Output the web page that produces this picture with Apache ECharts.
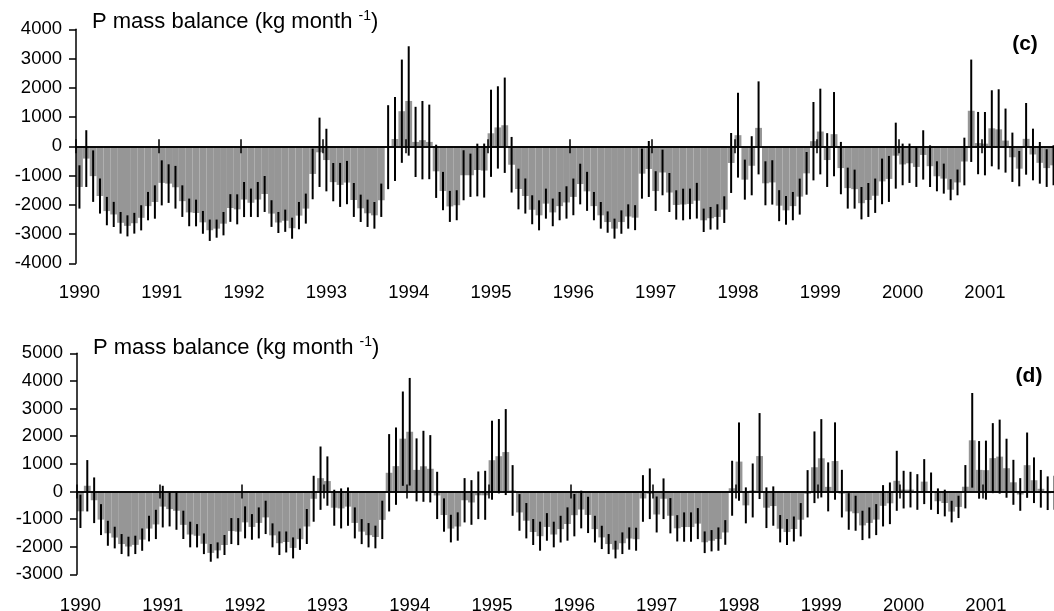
<!DOCTYPE html>
<html>
<head>
<meta charset="utf-8">
<script src="https://cdn.jsdelivr.net/npm/echarts@6/dist/echarts.min.js"></script>
<style>
html,body{margin:0;padding:0;background:#fff;}
#chart{width:1054px;height:611px;}
</style>
</head>
<body>
<div id="chart"></div>
<script>
// ---- data ----
const years = [1990,1991,1992,1993,1994,1995,1996,1997,1998,1999,2000,2001];
const monthsShown = 143; // Jan 1990 .. Nov 2001 visible

// Panel (c): P mass balance (kg month-1), monthly values and error half-widths
const cVals = [-1390,-420,-1020,-1700,-2215,-2330,-2615,-2720,-2630,-2445,-2045,-1905,
-1250,-1275,-1400,-1875,-2260,-2280,-2600,-2870,-2815,-2645,-2110,-2155,
-1820,-1930,-1820,-1630,-2300,-2605,-2545,-2800,-2370,-2130,-945,-205,
-470,-1225,-1320,-1240,-1835,-2120,-2290,-2360,-1845,-30,250,1200,
1550,150,210,150,-855,-1530,-2055,-2015,-990,-990,-810,-830,
445,645,720,-630,-1460,-1700,-2170,-2360,-1960,-2260,-2045,-1920,
-1730,-1290,-1540,-2045,-2360,-2590,-2815,-2590,-2400,-2440,-935,-775,
-1530,-895,-1580,-2005,-1990,-1970,-1860,-2530,-2460,-2415,-2165,-570,
380,-1140,-665,630,-1265,-1235,-2030,-2190,-2045,-1720,-925,175,
505,-470,415,-745,-1430,-1465,-1945,-1835,-1690,-1200,-1115,-320,
-620,-580,-705,-295,-680,-1025,-1105,-1485,-1235,-520,1215,110,
90,615,580,195,-375,-765,255,-280,-565,-745,-650];
const cErr = [740,970,880,600,485,430,370,360,355,430,485,570,
770,660,730,540,473,456,390,365,310,400,473,513,
600,485,600,615,456,360,380,360,467,513,866,1185,
1070,655,752,740,580,467,467,456,570,1435,1435,1765,
1870,1200,1340,1275,910,655,530,513,855,740,900,923,
1490,1407,1630,950,695,600,495,513,513,473,484,553,
627,695,667,484,456,365,342,400,416,427,855,957,
678,780,667,501,541,524,610,400,387,433,456,1025,
1450,684,1010,1590,752,758,530,490,484,615,730,1340,
1465,920,1440,895,700,667,553,580,587,780,786,1128,
712,672,684,843,712,513,513,360,440,815,1750,1065,
1083,1300,1370,1095,843,604,1225,883,712,644,684];

// Panel (d)
const dVals = [-720,205,-320,-1020,-1515,-1670,-1905,-1995,-1935,-1745,-1345,-1195,
-550,-640,-700,-1210,-1560,-1605,-1895,-2225,-2135,-1940,-1435,-1455,
-1120,-1285,-1140,-940,-1590,-1875,-1830,-2045,-1730,-1270,-265,480,
375,-590,-615,-550,-1140,-1455,-1585,-1650,-1030,675,915,1910,
2160,780,910,820,-145,-855,-1345,-1270,-320,-400,-140,-140,
1130,1275,1425,35,-760,-1060,-1470,-1620,-1285,-1560,-1365,-1180,
-860,-655,-850,-1365,-1665,-1905,-2105,-1875,-1705,-1730,-255,-85,
-835,-265,-880,-1335,-1290,-1290,-1165,-1840,-1785,-1725,-1485,115,
1080,-505,35,1280,-590,-530,-1350,-1470,-1360,-1025,-85,875,
1200,165,1100,-80,-725,-790,-1230,-1140,-1020,-520,-430,385,
65,65,-20,355,10,-355,-420,-730,-560,170,1850,780,
770,1205,1260,840,330,-110,950,405,95,-65,-50];
const dErr = [603,930,826,560,452,392,362,356,332,404,464,530,
754,627,688,513,464,422,374,320,290,362,470,489,
579,464,561,603,434,428,380,380,386,633,832,1146,
893,651,724,694,561,452,440,410,694,1400,1400,1707,
1948,1140,1285,1218,856,603,500,513,802,808,862,887,
1430,1345,1556,917,663,640,470,525,500,464,483,603,
766,682,657,483,422,362,320,392,404,416,844,917,
651,736,639,476,531,531,561,392,386,422,446,995,
1417,651,977,1556,736,712,495,470,452,603,856,1297,
1417,887,1400,862,663,633,531,561,561,748,754,1086,
682,645,645,814,675,464,483,392,404,784,1713,1043,
1068,1267,1339,1068,814,591,1182,826,682,609,615];

const cTicks = {min:-4000, max:4000, interval:1000};
const dTicks = {min:-3000, max:5000, interval:1000};

// month categories built from the years list
const months = [];
years.forEach(y => { for (let m = 1; m <= 12; m++) months.push(y + '-' + (m < 10 ? '0' + m : m)); });
const cats = months.slice(0, monthsShown);

// ---- chart ----
const FONT = 'Liberation Sans, Arial, Helvetica, sans-serif';
const STEP = 6.86;
const W = cats.length * STEP;
const grids = [
  {left: 76, top: 29.3, width: W, height: 234},
  {left: 77, top: 353.3, width: W, height: 221}
];
const yearTick = (i) => i % 12 === 0;

function errSeries(vals, errs, xi, yi) {
  return {
    type: 'custom', xAxisIndex: xi, yAxisIndex: yi, z: 5, silent: true,
    data: vals.map((v, i) => [i, v, errs[i]]),
    encode: {x: 0, y: 1},
    renderItem: function (params, api) {
      const i = api.value(0), v = api.value(1), e = api.value(2);
      const a = api.coord([i, v + e]);
      const b = api.coord([i, v - e]);
      return {type: 'line', shape: {x1: a[0], y1: a[1], x2: b[0], y2: b[1]},
              style: {stroke: '#000', lineWidth: 2}};
    }
  };
}

const xAxes = [];
const yAxes = [];
const allGrids = [];
[0, 1, 0, 1].forEach(p => {
  allGrids.push(Object.assign({containLabel: false, outerBoundsMode: 'none'}, grids[p]));
});

[0, 1].forEach(p => {
  // year labels at the bottom of the plot
  xAxes.push({type: 'category', gridIndex: p, data: cats, position: 'bottom',
    axisLine: {show: false, onZero: false}, axisTick: {show: false},
    axisLabel: {interval: (i) => yearTick(i), formatter: (v) => v.slice(0, 4),
      color: '#000', fontFamily: FONT, fontSize: 18.5, margin: p === 0 ? 20 : 22}});
  // zero line with upward ticks
  xAxes.push({type: 'category', gridIndex: p, data: cats, position: 'top', z: 10,
    axisLine: {show: true, onZero: true, lineStyle: {color: '#000', width: 1.5}},
    axisTick: {show: true, interval: (i) => yearTick(i), length: 7, inside: false,
      lineStyle: {color: '#000', width: 1.5}},
    axisLabel: {show: false}});
});
[0, 1].forEach(p => {
  // overlay: zero line with downward ticks
  xAxes.push({type: 'category', gridIndex: 2 + p, data: cats, position: 'bottom', z: 10,
    axisLine: {show: true, onZero: true, lineStyle: {color: '#000', width: 1.5}},
    axisTick: {show: true, interval: (i) => yearTick(i), length: 7, inside: false,
      lineStyle: {color: '#000', width: 1.5}},
    axisLabel: {show: false}});
});
[cTicks, dTicks].forEach((t, p) => {
  yAxes.push({type: 'value', gridIndex: p, min: t.min, max: t.max, interval: t.interval, z: 10,
    axisLine: {show: true, lineStyle: {color: '#000', width: 1.5}},
    axisTick: {show: true, length: 7, inside: false, lineStyle: {color: '#000', width: 1.5}},
    splitLine: {show: false},
    axisLabel: {color: '#000', fontFamily: FONT, fontSize: 18.5, margin: 14,
      formatter: (v) => String(v)}});
});
[cTicks, dTicks].forEach((t, p) => {
  yAxes.push({type: 'value', gridIndex: 2 + p, min: t.min, max: t.max, interval: t.interval, show: false});
});

const titleRich = {
  a: {fontFamily: FONT, fontSize: 22, fontWeight: 'normal', color: '#000', lineHeight: 25},
  s: {fontFamily: FONT, fontSize: 14, fontWeight: 'normal', color: '#000', verticalAlign: 'top', lineHeight: 15}
};
const titleText = '{a|P mass balance (kg month }{s|-1}{a|)}';

const option = {
  animation: false,
  backgroundColor: '#fff',
  grid: allGrids,
  xAxis: xAxes,
  yAxis: yAxes,
  title: [
    {text: titleText, left: 92, top: 9, padding: 0, textStyle: {fontWeight: 'normal', rich: titleRich}},
    {text: titleText, left: 93, top: 335, padding: 0, textStyle: {fontWeight: 'normal', rich: titleRich}}
  ],
  graphic: [
    {type: 'text', x: 1025, y: 44.5, style: {text: '(c)', fontFamily: FONT, fontWeight: 'bold', fontSize: 21, fill: '#000', align: 'center', verticalAlign: 'middle'}},
    {type: 'text', x: 1029, y: 376, style: {text: '(d)', fontFamily: FONT, fontWeight: 'bold', fontSize: 21, fill: '#000', align: 'center', verticalAlign: 'middle'}}
  ],
  series: [
    {type: 'bar', xAxisIndex: 0, yAxisIndex: 0, data: cVals, barCategoryGap: '0%',
      itemStyle: {color: '#969696'}, silent: true},
    errSeries(cVals, cErr, 0, 0),
    {type: 'bar', xAxisIndex: 2, yAxisIndex: 1, data: dVals, barCategoryGap: '0%',
      itemStyle: {color: '#969696'}, silent: true},
    errSeries(dVals, dErr, 2, 1)
  ]
};

const chart = echarts.init(document.getElementById('chart'), null, {renderer: 'canvas'});
chart.setOption(option);
</script>
</body>
</html>
